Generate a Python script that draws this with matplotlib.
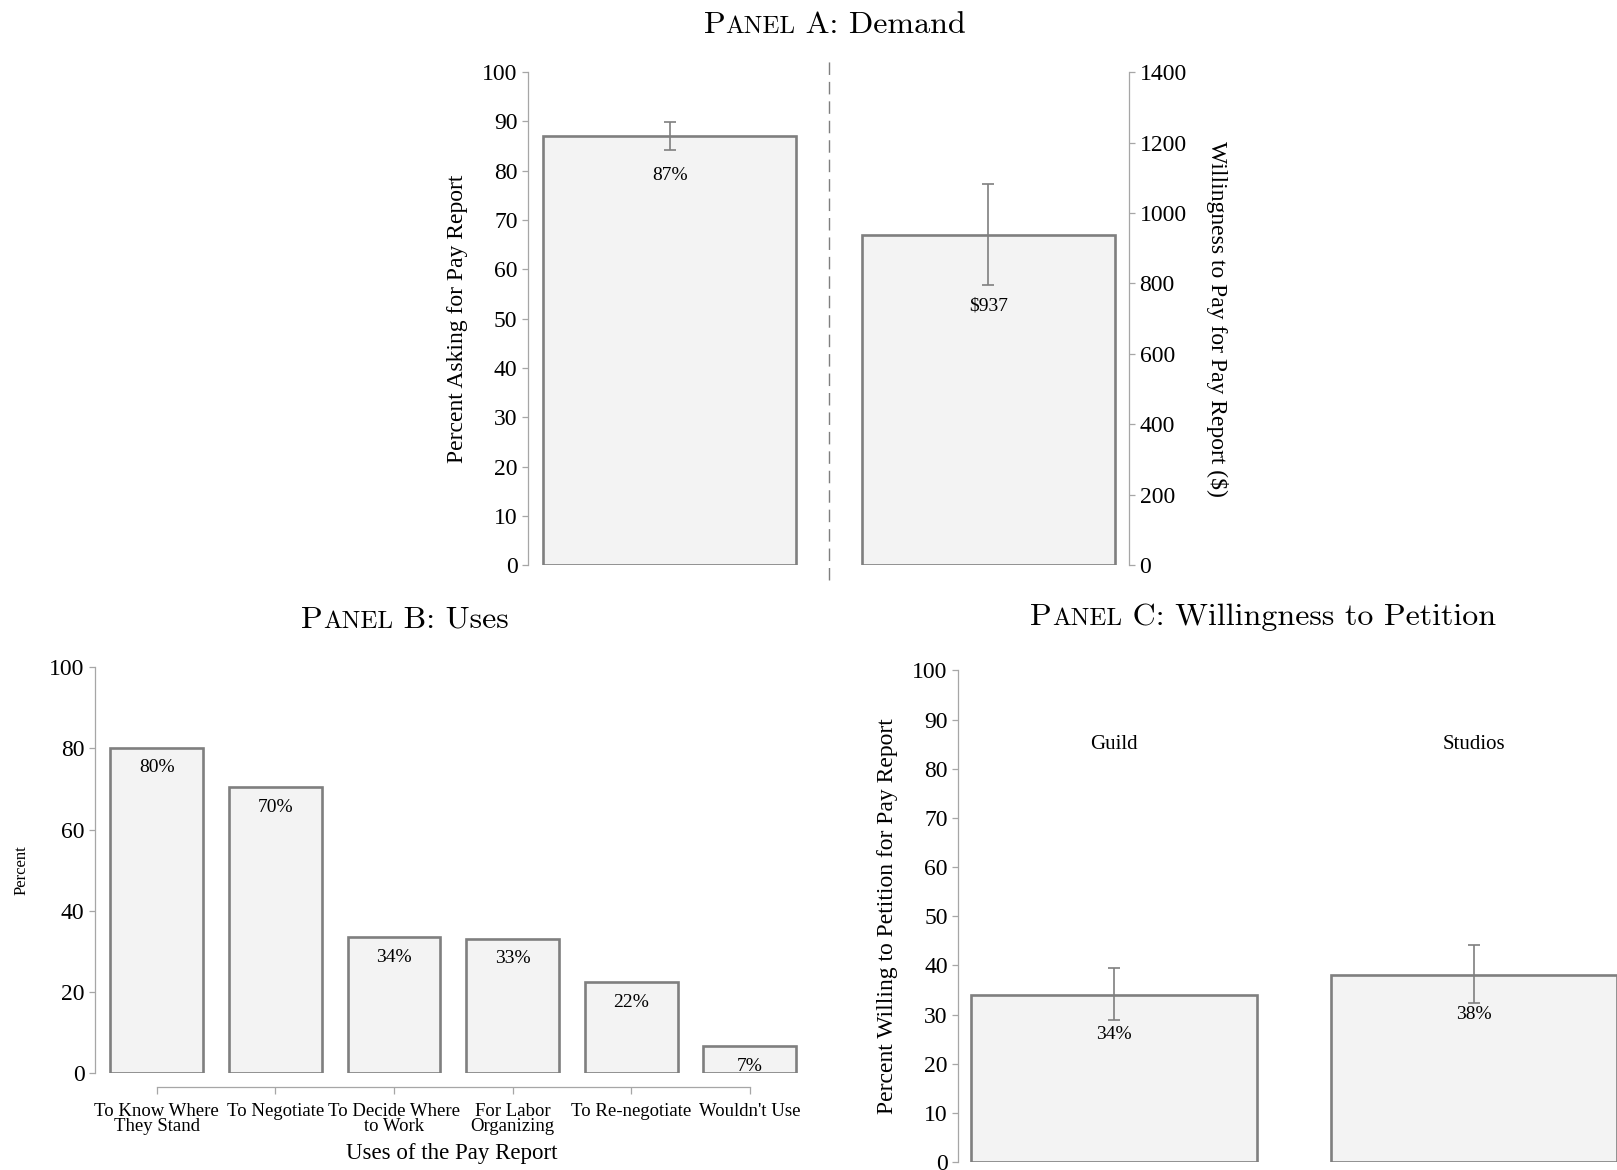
import numpy as np
import matplotlib.pyplot as plt
from matplotlib.offsetbox import TextArea, HPacker, AnchoredOffsetbox

# ---- data ----
pct_ask = 87.0
pct_ask_ci = (84.3, 89.8)
wtp = 937.0
wtp_ci = (795.0, 1083.0)

uses_labels = ['To Know Where\nThey Stand', 'To Negotiate', 'To Decide Where\nto Work',
               'For Labor\nOrganizing', 'To Re-negotiate', "Wouldn't Use"]
uses_values = [80.2, 70.4, 33.6, 33.2, 22.4, 6.8]

petition_groups = ['Guild', 'Studios']
petition_values = [34.0, 38.1]
petition_lo = [28.9, 32.4]
petition_hi = [39.5, 44.2]

# ---- style ----
FILL = '#f3f3f3'
EDGE = '#7f7f7f'
SPINE = '#a6a6a6'
SERIF = 'Liberation Serif'
plt.rcParams['font.family'] = SERIF

fig = plt.figure(figsize=(16.17, 11.70), dpi=100)


def style_axis(ax, side='left'):
    for s in ax.spines.values():
        s.set_visible(False)
    ax.spines[side].set_visible(True)
    ax.spines[side].set_color(SPINE)
    ax.spines[side].set_linewidth(0.9)
    ax.tick_params(axis='y', which='both', colors=SPINE, labelcolor='black',
                   length=4, width=0.9, labelsize=17, direction='out')
    ax.set_facecolor('none')


def panel_title(text_cap, text_rest, x, y, size=23):
    # fake small caps: "P" + "ANEL" + rest
    tp_big = dict(family='cmr10', size=size, color='black')
    tp_small = dict(family='cmr10', size=size * 0.78, color='black')
    parts = [TextArea('P', textprops=tp_big),
             TextArea('ANEL', textprops=tp_small),
             TextArea(' ' + text_cap + ': ' + text_rest, textprops=tp_big)]
    box = HPacker(children=parts, align='baseline', pad=0, sep=0)
    anch = AnchoredOffsetbox(loc='center', child=box, pad=0, borderpad=0, frameon=False,
                             bbox_to_anchor=(x, y), bbox_transform=fig.transFigure)
    fig.add_artist(anch)


# ---------------- Panel A ----------------
axA = fig.add_axes([0.3265, 0.5170, 0.3718, 0.4213])
axA2 = axA.twinx()
wA = 0.793
axA.bar(0, pct_ask, width=wA, color=FILL, edgecolor=EDGE, linewidth=1.9, zorder=2)
axA.errorbar(0, pct_ask, yerr=[[pct_ask - pct_ask_ci[0]], [pct_ask_ci[1] - pct_ask]],
             fmt='none', ecolor=EDGE, elinewidth=1.2, capsize=4, capthick=1.2, zorder=3)
axA.text(0, pct_ask - 8, f'{pct_ask:.0f}%', ha='center', va='center', fontsize=14)
axA2.bar(1, wtp, width=wA, color=FILL, edgecolor=EDGE, linewidth=1.9, zorder=2)
axA2.errorbar(1, wtp, yerr=[[wtp - wtp_ci[0]], [wtp_ci[1] - wtp]],
              fmt='none', ecolor=EDGE, elinewidth=1.2, capsize=4, capthick=1.2, zorder=3)
axA2.text(1, wtp - 200, f'\\${wtp:.0f}', ha='center', va='center', fontsize=14)
axA.set_xlim(-0.445, 1.442)
axA.set_ylim(0, 100)
axA2.set_ylim(0, 1400)
axA.set_yticks(np.arange(0, 101, 10))
axA2.set_yticks(np.arange(0, 1401, 200))
axA.set_xticks([])
style_axis(axA, 'left')
style_axis(axA2, 'right')
axA.axvline(0.5, ymin=-0.03, ymax=1.03, color=EDGE, lw=1.0, ls=(0, (9, 5)), clip_on=False)
axA.set_ylabel('Percent Asking for Pay Report', fontsize=17, labelpad=10)
axA2.set_ylabel('Willingness to Pay for Pay Report (\\$)', fontsize=17,
                rotation=-90, va='bottom', labelpad=14)
panel_title('A', 'Demand', 835 / 1617, 1 - 25 / 1170)

# ---------------- Panel B ----------------
axB = fig.add_axes([0.0587, 0.0825, 0.4416, 0.3473])
xB = np.arange(len(uses_values))
axB.bar(xB, uses_values, width=0.783, color=FILL, edgecolor=EDGE, linewidth=1.9, zorder=2)
for x, v in zip(xB, uses_values):
    axB.text(x, v - 5, f'{v:.0f}%', ha='center', va='center', fontsize=14)
axB.set_xlim(-0.522, 5.5)
axB.set_ylim(0, 100)
axB.set_yticks(np.arange(0, 101, 20))
style_axis(axB, 'left')
axB.spines['bottom'].set_visible(True)
axB.spines['bottom'].set_color(SPINE)
axB.spines['bottom'].set_linewidth(0.9)
axB.spines['bottom'].set_position(('outward', 10))
axB.spines['bottom'].set_bounds(0, 5)
axB.set_xticks(xB)
axB.set_xticklabels(uses_labels, fontsize=13.5, linespacing=0.85)
axB.tick_params(axis='x', colors=SPINE, labelcolor='black', length=5, width=0.9, pad=6)
axB.set_ylabel('Percent', fontsize=12, labelpad=14)
axB.set_xlabel('Uses of the Pay Report', fontsize=16.5, labelpad=6)
panel_title('B', 'Uses', 405 / 1617, 1 - 620 / 1170)

# ---------------- Panel C ----------------
axC = fig.add_axes([0.5925, 0.00667, 0.4193, 0.4204])
xC = np.arange(len(petition_values))
axC.bar(xC, petition_values, width=0.794, color=FILL, edgecolor=EDGE, linewidth=1.9, zorder=2)
yerr = [np.array(petition_values) - np.array(petition_lo),
        np.array(petition_hi) - np.array(petition_values)]
axC.errorbar(xC, petition_values, yerr=yerr, fmt='none', ecolor=EDGE,
             elinewidth=1.2, capsize=4, capthick=1.2, zorder=3)
for x, v, g in zip(xC, petition_values, petition_groups):
    axC.text(x, v - 8, f'{v:.0f}%', ha='center', va='center', fontsize=14)
    axC.text(x, 85, g, ha='center', va='center', fontsize=15)
axC.set_xlim(-0.434, 1.45)
axC.set_ylim(0, 100)
axC.set_yticks(np.arange(0, 101, 10))
axC.set_xticks([])
style_axis(axC, 'left')
axC.set_ylabel('Percent Willing to Petition for Pay Report', fontsize=17, labelpad=10)
panel_title('C', 'Willingness to Petition', 1263 / 1617, 1 - 617 / 1170)

fig.savefig('out.png', dpi=100)
